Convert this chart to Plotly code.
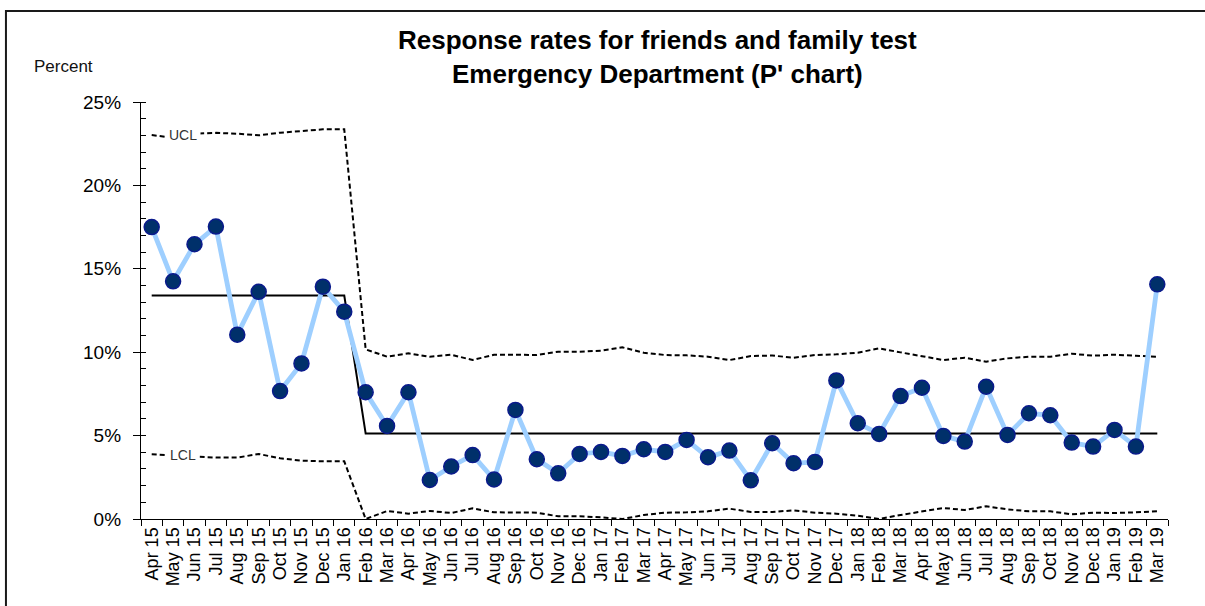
import plotly.graph_objects as go

# Monthly categories, April 2015 to March 2019
months = [
    "Apr 15", "May 15", "Jun 15", "Jul 15", "Aug 15", "Sep 15", "Oct 15", "Nov 15",
    "Dec 15", "Jan 16", "Feb 16", "Mar 16", "Apr 16", "May 16", "Jun 16", "Jul 16",
    "Aug 16", "Sep 16", "Oct 16", "Nov 16", "Dec 16", "Jan 17", "Feb 17", "Mar 17",
    "Apr 17", "May 17", "Jun 17", "Jul 17", "Aug 17", "Sep 17", "Oct 17", "Nov 17",
    "Dec 17", "Jan 18", "Feb 18", "Mar 18", "Apr 18", "May 18", "Jun 18", "Jul 18",
    "Aug 18", "Sep 18", "Oct 18", "Nov 18", "Dec 18", "Jan 19", "Feb 19", "Mar 19",
]

# Response rate (%) per month
response_rate = [
    17.5, 14.25, 16.47, 17.53, 11.05, 13.62, 7.67, 9.33, 13.93, 12.43,
    7.6, 5.58, 7.6, 2.34, 3.15, 3.83, 2.37, 6.54, 3.58, 2.74, 3.9, 4.02,
    3.78, 4.18, 4.02, 4.74, 3.70, 4.1, 2.32, 4.54, 3.34, 3.42, 8.31, 5.74,
    5.1, 7.37, 7.87, 4.98, 4.64, 7.93, 5.04, 6.34, 6.22, 4.58, 4.34, 5.34,
    4.34, 14.07,
]

# Centre line: mean of each period (Apr 15 - Jan 16, Feb 16 onwards)
centre_line = [13.4] * 10 + [5.12] * 38

# Upper control limit (%)
ucl = [
    23.02, 22.86, 23.1, 23.15, 23.1, 23.0, 23.16, 23.28, 23.36, 23.36,
    10.17, 9.73, 9.93, 9.73, 9.85, 9.53, 9.85, 9.85,
    9.83, 10.03, 10.03, 10.09, 10.29, 9.97, 9.83, 9.81, 9.73, 9.53, 9.77, 9.8, 9.67, 9.83,
    9.87, 9.97, 10.23, 9.99, 9.77, 9.53, 9.67, 9.43, 9.63, 9.73, 9.73, 9.91, 9.79, 9.85,
    9.79, 9.73,
]

# Lower control limit (%)
lcl = [
    3.88, 3.82, 3.72, 3.68, 3.68, 3.9, 3.64, 3.5, 3.46, 3.46,
    0.0, 0.48, 0.32, 0.48, 0.36, 0.64, 0.4, 0.4,
    0.38, 0.16, 0.16, 0.1, 0.0, 0.24, 0.38, 0.4, 0.46, 0.62, 0.42, 0.42, 0.52, 0.38,
    0.32, 0.2, 0.0, 0.24, 0.44, 0.66, 0.54, 0.76, 0.58, 0.46, 0.46, 0.28, 0.38, 0.36,
    0.4, 0.46,
]

FONT = "Liberation Sans, Arial, sans-serif"

fig = go.Figure()

dash_style = dict(color="black", width=2, dash="5px,3px")
fig.add_trace(go.Scatter(x=months, y=ucl, mode="lines", line=dash_style,
                         cliponaxis=False, hoverinfo="skip"))
fig.add_trace(go.Scatter(x=months, y=lcl, mode="lines", line=dash_style,
                         cliponaxis=False, hoverinfo="skip"))
fig.add_trace(go.Scatter(x=months, y=centre_line, mode="lines",
                         line=dict(color="black", width=2), hoverinfo="skip"))
fig.add_trace(go.Scatter(
    x=months, y=response_rate, mode="lines+markers",
    line=dict(color="#9ECFFF", width=4.8),
    marker=dict(size=15, color="#00306A", line=dict(color="#0A1A8C", width=1.5)),
    cliponaxis=False,
))

# Limit labels sitting on the dashed lines
for txt, yv in (("UCL", 23.0), ("LCL", 3.84)):
    fig.add_annotation(x=1.46, y=yv, xref="x", yref="y", text=txt, showarrow=False,
                       font=dict(family=FONT, size=14, color="#333333"),
                       bgcolor="white", borderpad=3, xanchor="center", yanchor="middle")

# Title
fig.add_annotation(
    x=0.503, y=1.19, xref="paper", yref="paper", xanchor="center", yanchor="top",
    text="<b>Response rates for friends and family test<br>Emergency Department (P' chart)</b>",
    showarrow=False, font=dict(family=FONT, size=26, color="black"),
)
# Axis caption
fig.add_annotation(
    x=-0.106, y=1.084, xref="paper", yref="paper", xanchor="left", yanchor="middle",
    text="Percent", showarrow=False, font=dict(family=FONT, size=17, color="#111111"),
)

# Outer frame
fig.add_shape(type="rect", xref="paper", yref="paper",
              x0=-0.1315, x1=1.08, y0=-0.25, y1=1.218,
              line=dict(color="#1a1a1a", width=2), layer="below")

fig.update_layout(
    width=1205, height=606,
    margin=dict(l=141, r=37, t=102, b=87),
    paper_bgcolor="white", plot_bgcolor="white",
    showlegend=False,
    font=dict(family=FONT, color="black"),
    xaxis=dict(
        type="category", categoryorder="array", categoryarray=months,
        tickmode="array", tickvals=months, ticktext=months,
        range=[-0.5, 47.5], tickson="boundaries",
        ticks="outside", ticklen=6, tickwidth=1.2, tickcolor="black",
        showline=True, linecolor="black", linewidth=1.3,
        tickangle=-90, tickfont=dict(family=FONT, size=18, color="black"),
        showgrid=False, zeroline=False, fixedrange=True,
    ),
    yaxis=dict(
        range=[0, 25], dtick=5, ticksuffix="%",
        ticks="outside", ticklen=7, tickwidth=1.2, tickcolor="black",
        minor=dict(ticks="inside", ticklen=5, dtick=1, tickcolor="black",
                   tickwidth=1.2, showgrid=False),
        showline=True, linecolor="black", linewidth=1.3,
        tickfont=dict(family=FONT, size=19, color="black"),
        ticklabelstandoff=8,
        showgrid=False, zeroline=False, fixedrange=True,
    ),
    yaxis2=dict(
        overlaying="y", anchor="x", side="left", range=[0, 25], dtick=5,
        ticks="inside", ticklen=5, tickwidth=1.2, tickcolor="black",
        showticklabels=False, showline=False, showgrid=False, zeroline=False,
        fixedrange=True,
    ),
)

fig.write_html("out.html")
